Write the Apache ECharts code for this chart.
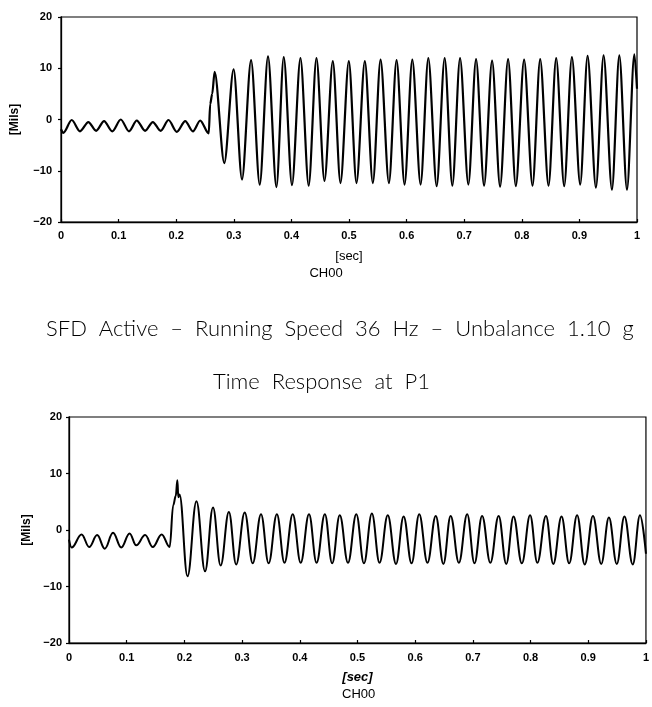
<!DOCTYPE html>
<html>
<head>
<meta charset="utf-8">
<script src="https://cdn.jsdelivr.net/npm/echarts@6/dist/echarts.min.js"></script>
<style>
html,body{margin:0;padding:0;background:#fff;}
#chart{width:652px;height:707px;}
</style>
</head>
<body>
<div id="chart"></div>
<script>
// ---- Data (time in s, displacement in mils) ----
var xTicks = [0, 0.1, 0.2, 0.3, 0.4, 0.5, 0.6, 0.7, 0.8, 0.9, 1];
var yTicks = [-20, -10, 0, 10, 20];

// Top chart (extrema of the trace)
var topTime = [0, 0.004, 0.0186, 0.033, 0.0475, 0.061, 0.0748, 0.089, 0.1038, 0.118,
  0.1316, 0.146, 0.1594, 0.173, 0.1867, 0.201, 0.2157, 0.229, 0.2417, 0.2565,
  0.2590, 0.2625, 0.2667, 0.2835, 0.2997, 0.3142, 0.330, 0.345, 0.3594, 0.374,
  0.3867, 0.401, 0.4157, 0.430, 0.4435, 0.4574, 0.4719, 0.4852, 0.4997, 0.513,
  0.5275, 0.5414, 0.5548, 0.5693, 0.5826, 0.5965, 0.6099, 0.6243, 0.6377, 0.6522,
  0.6661, 0.6794, 0.6928, 0.7072, 0.7206, 0.7345, 0.7484, 0.7623, 0.7762, 0.7896,
  0.8040, 0.8186, 0.8319, 0.8464, 0.8597, 0.8736, 0.8870, 0.9014, 0.9142, 0.9287,
  0.9420, 0.9565, 0.9693, 0.9826, 0.9954, 1.0];
var topMils = [-1.9, -2.6, -0.1, -2.3, -0.5, -2.2, -0.3, -2.3, 0.0, -2.3,
  -0.2, -2.2, -0.5, -2.2, -0.1, -2.4, -0.3, -2.3, -0.2, -2.7,
  3.0, 5.0, 9.3, -8.5, 9.8, -11.7, 11.6, -12.7, 12.3, -13.2,
  12.2, -12.8, 12.0, -12.9, 12.0, -12.0, 11.4, -12.4, 11.4, -12.4,
  11.4, -12.4, 11.7, -12.4, 11.6, -12.7, 11.7, -12.7, 12.0, -13.0,
  12.0, -12.9, 12.0, -12.7, 11.8, -12.9, 11.5, -13.1, 11.8, -13.0,
  11.7, -12.9, 11.8, -12.9, 12.0, -13.0, 12.2, -12.7, 12.4, -13.3,
  12.5, -13.7, 12.5, -13.7, 12.7, 6.0];

// Bottom chart (extrema of the trace)
var botTime = [0, 0.0046, 0.0218, 0.035, 0.0488, 0.062, 0.0763, 0.0906, 0.105, 0.1165,
  0.132, 0.1452, 0.1606, 0.1745, 0.1807, 0.1850, 0.1878, 0.1895, 0.1915, 0.2054,
  0.2209, 0.2358, 0.2496, 0.2628, 0.2771, 0.2897, 0.3046, 0.3184, 0.3328, 0.346,
  0.3603, 0.3735, 0.3878, 0.4016, 0.416, 0.4291, 0.4435, 0.4561, 0.4693, 0.4836,
  0.498, 0.5112, 0.525, 0.5382, 0.5525, 0.5668, 0.58, 0.5938, 0.607, 0.6213,
  0.6357, 0.6489, 0.6615, 0.6758, 0.6902, 0.7028, 0.716, 0.7303, 0.7447, 0.7579,
  0.7705, 0.7849, 0.7992, 0.8118, 0.8267, 0.8394, 0.8537, 0.8669, 0.8807, 0.8939,
  0.9082, 0.9225, 0.9358, 0.9495, 0.9627, 0.9771, 0.9897, 1.0];
var botMils = [-1.7, -3.1, -0.8, -3.0, -0.9, -3.3, -0.5, -3.1, -0.6, -2.7,
  -0.9, -3.0, -0.8, -3.0, 4.4, 6.0, 8.8, 5.8, 6.3, -8.2,
  5.1, -7.3, 4.0, -6.3, 3.2, -6.1, 3.1, -5.9, 2.8, -5.9,
  2.8, -5.8, 2.8, -5.8, 2.8, -5.8, 2.8, -5.9, 2.6, -5.8,
  2.8, -5.9, 2.9, -5.8, 2.6, -6.0, 2.4, -5.9, 2.8, -5.8,
  2.5, -6.0, 2.5, -5.8, 2.8, -5.9, 2.5, -5.8, 2.5, -6.0,
  2.4, -5.9, 2.6, -5.8, 2.5, -6.0, 2.4, -5.9, 2.6, -6.1,
  2.5, -6.0, 2.2, -6.0, 2.4, -6.1, 2.6, -4.2];

var mainTitle = 'SFD  Active  \u2013  Running  Speed  36  Hz  \u2013  Unbalance  1.10  g';
var subTitle = 'Time  Response  at  P1';
var xName = '[sec]';
var yName = '[Mils]';
var channel = 'CH00';

function zip(a, b) { return a.map(function (t, i) { return [t, b[i]]; }); }

var labelFont = { color: '#000', fontFamily: 'Liberation Sans', fontWeight: 'bold', fontSize: 11 };
function yFmt(v) { return v < 0 ? '\u2212' + (-v) : String(v); }

function xAxisDef(gi, italic, margin) {
  return {
    type: 'value', gridIndex: gi, min: xTicks[0], max: xTicks[xTicks.length - 1], interval: 0.1,
    axisLine: { show: true, onZero: false, lineStyle: { color: '#000', width: 1.3 } },
    axisTick: { show: true, inside: true, length: 3, lineStyle: { color: '#000', width: 1.2 } },
    axisLabel: Object.assign({ margin: margin }, labelFont),
    splitLine: { show: false },
    name: xName, nameLocation: 'middle', nameGap: 28,
    nameTextStyle: { color: '#000', fontFamily: 'Liberation Sans', fontSize: 13,
      fontWeight: italic ? 'bold' : 'normal', fontStyle: italic ? 'italic' : 'normal' }
  };
}
function yAxisDef(gi, nameGap, margin) {
  return {
    type: 'value', gridIndex: gi, min: yTicks[0], max: yTicks[yTicks.length - 1], interval: 10,
    axisLine: { show: true, onZero: false, lineStyle: { color: '#000', width: 1.3 } },
    axisTick: { show: true, inside: false, length: 3, lineStyle: { color: '#000', width: 1.2 } },
    axisLabel: Object.assign({ margin: margin, formatter: yFmt }, labelFont),
    splitLine: { show: false },
    name: yName, nameLocation: 'middle', nameGap: nameGap, nameRotate: 90,
    nameTextStyle: { color: '#000', fontFamily: 'Liberation Sans', fontSize: 12, fontWeight: 'bold' }
  };
}

var chart = echarts.init(document.getElementById('chart'), null, { renderer: 'canvas' });
chart.setOption({
  backgroundColor: '#fff',
  animation: false,
  title: [
    { text: channel, left: 'center', top: 267, padding: 0,
      textStyle: { color: '#000', fontFamily: 'Liberation Sans', fontSize: 13, fontWeight: 'normal' } },
    { text: channel, left: 342, top: 688, padding: 0,
      textStyle: { color: '#000', fontFamily: 'Liberation Sans', fontSize: 13, fontWeight: 'normal' } },
    { text: mainTitle, left: 46, top: 318, padding: 0,
      textStyle: { color: '#000', fontFamily: 'Lato', fontSize: 22, fontWeight: 300 } },
    { text: subTitle, left: 213, top: 371, padding: 0,
      textStyle: { color: '#000', fontFamily: 'Lato', fontSize: 22, fontWeight: 300 } }
  ],
  grid: [
    { left: 61, top: 17, width: 576, height: 205, show: true, borderColor: '#000', borderWidth: 1.2, backgroundColor: 'transparent' },
    { left: 69, top: 417, width: 581, height: 226, show: true, borderColor: '#000', borderWidth: 1.2, backgroundColor: 'transparent' }
  ],
  xAxis: [xAxisDef(0, false, 8), xAxisDef(1, true, 9)],
  yAxis: [yAxisDef(0, 40, 9), yAxisDef(1, 36, 7)],
  series: [
    { type: 'line', xAxisIndex: 0, yAxisIndex: 0, data: zip(topTime, topMils),
      showSymbol: false, smooth: 0.3, smoothMonotone: 'x',
      lineStyle: { color: '#000', width: 2.2 } },
    { type: 'line', xAxisIndex: 1, yAxisIndex: 1, data: zip(botTime, botMils),
      showSymbol: false, smooth: 0.4, smoothMonotone: 'x',
      lineStyle: { color: '#000', width: 2 } }
  ]
});
</script>
</body>
</html>
